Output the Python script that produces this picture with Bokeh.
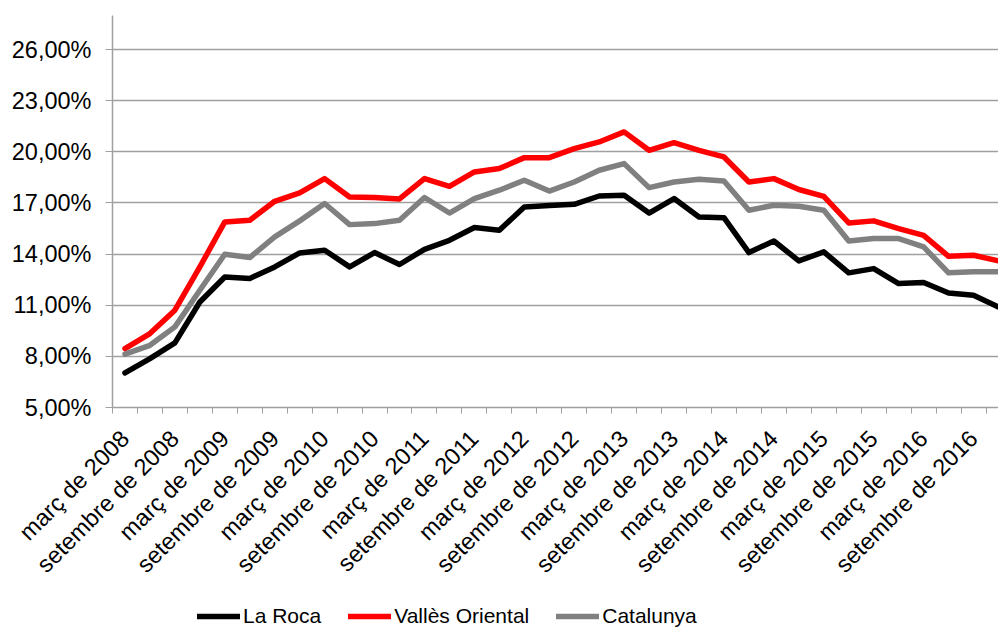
import math
from bokeh.plotting import figure
from bokeh.layouts import column
from bokeh.models import Range1d, FixedTicker, ColumnDataSource, Legend, LegendItem
from bokeh.embed import file_html
from bokeh.resources import INLINE

# ---- data (quarterly, març 2008 .. desembre 2016) ----
periods = [f"{m} {y}" for y in range(2008, 2017) for m in ("març", "juny", "setembre", "desembre")]

la_roca = [7.03, 7.87, 8.79, 11.19, 12.66, 12.57, 13.25, 14.07, 14.23, 13.25,
           14.09, 13.39, 14.28, 14.81, 15.56, 15.40, 16.77, 16.85, 16.92, 17.41,
           17.45, 16.41, 17.26, 16.18, 16.14, 14.09, 14.77, 13.60, 14.13, 12.90,
           13.15, 12.27, 12.33, 11.72, 11.59, 10.90]

valles_oriental = [8.46, 9.34, 10.71, 13.25, 15.89, 15.99, 17.10, 17.59, 18.43, 17.35,
                   17.32, 17.24, 18.43, 17.98, 18.82, 19.02, 19.66, 19.66, 20.19, 20.58,
                   21.17, 20.09, 20.54, 20.09, 19.70, 18.23, 18.43, 17.79, 17.39, 15.83,
                   15.95, 15.50, 15.10, 13.87, 13.93, 13.60]

catalunya = [8.13, 8.65, 9.73, 11.88, 13.99, 13.80, 15.01, 15.95, 16.97, 15.73,
             15.79, 15.99, 17.32, 16.41, 17.26, 17.75, 18.33, 17.70, 18.23, 18.92,
             19.31, 17.90, 18.23, 18.39, 18.29, 16.57, 16.87, 16.81, 16.57, 14.77,
             14.91, 14.91, 14.42, 12.90, 12.96, 12.96]

x_tick_positions = list(range(0, 36, 2))
x_tick_labels = ["març de 2008", "setembre de 2008", "març de 2009", "setembre de 2009",
                 "març de 2010", "setembre de 2010", "març de 2011", "setembre de 2011",
                 "març de 2012", "setembre de 2012", "març de 2013", "setembre de 2013",
                 "març de 2014", "setembre de 2014", "març de 2015", "setembre de 2015",
                 "març de 2016", "setembre de 2016"]

y_ticks = [5, 8, 11, 14, 17, 20, 23, 26]
y_tick_labels = ["5,00%", "8,00%", "11,00%", "14,00%", "17,00%", "20,00%", "23,00%", "26,00%"]

series_names = ["La Roca", "Vallès Oriental", "Catalunya"]
series_colors = ["#000000", "#FF0000", "#808080"]
series_cols = ["la_roca", "valles", "catalunya"]

FONT = "Liberation Sans"
AXIS_GRAY = "#A0A0A0"

idx = list(range(len(periods)))
source = ColumnDataSource(dict(x=idx, period=periods, la_roca=la_roca,
                               valles=valles_oriental, catalunya=catalunya))

p = figure(frame_width=886, frame_height=392,
           x_range=Range1d(-0.5, 35), y_range=Range1d(5, 28),
           output_backend="svg", toolbar_location=None,
           min_border_left=112, min_border_right=0, min_border_top=15, min_border_bottom=193)
p.outline_line_color = None
p.background_fill_color = "white"
p.border_fill_color = "white"

for col, color in zip(series_cols, series_colors):
    p.line("x", col, source=source, line_color=color, line_width=5.5,
           line_join="round", line_cap="round")

# x axis
p.xaxis.ticker = FixedTicker(ticks=x_tick_positions,
                             minor_ticks=[i - 0.5 for i in range(len(periods) + 1)])
p.xaxis.major_label_overrides = {t: lab for t, lab in zip(x_tick_positions, x_tick_labels)}
p.xaxis.major_label_orientation = math.pi / 4
p.xaxis.major_tick_out = 0
p.xaxis.major_tick_in = 0
p.xaxis.minor_tick_in = 0
p.xaxis.minor_tick_out = 6
p.xaxis.minor_tick_line_color = AXIS_GRAY
p.xaxis.axis_line_color = AXIS_GRAY
p.xaxis.axis_line_width = 1.5
p.xaxis.major_label_standoff = 21
p.xaxis.major_label_text_font = FONT
p.xaxis.major_label_text_font_size = "23.5px"
p.xaxis.major_label_text_color = "black"
p.xgrid.visible = False

# y axis
p.yaxis.ticker = FixedTicker(ticks=y_ticks, minor_ticks=[])
p.yaxis.major_label_overrides = {t: lab for t, lab in zip(y_ticks, y_tick_labels)}
p.yaxis.major_tick_out = 7
p.yaxis.major_tick_in = 0
p.yaxis.major_tick_line_color = AXIS_GRAY
p.yaxis.axis_line_color = AXIS_GRAY
p.yaxis.axis_line_width = 1.5
p.yaxis.major_label_standoff = 14
p.yaxis.major_label_text_font = FONT
p.yaxis.major_label_text_font_size = "23.5px"
p.yaxis.major_label_text_color = "black"
p.ygrid.grid_line_color = AXIS_GRAY
p.ygrid.grid_line_width = 1.5

# legend strip below the chart (series drawn out of view, only used for legend glyphs)
lg = figure(width=998, height=28, x_range=Range1d(0, 1), y_range=Range1d(0, 1),
            x_axis_type=None, y_axis_type=None, output_backend="svg",
            toolbar_location=None, min_border=0)
lg.outline_line_color = None
lg.background_fill_color = "white"
lg.border_fill_color = "white"
leg_renderers = []
for col, color in zip(series_cols, series_colors):
    leg_renderers.append(lg.line("x", col, source=source, line_color=color,
                                 line_width=5.5, line_cap="round"))

legend = Legend(items=[LegendItem(label=n, renderers=[r]) for n, r in zip(series_names, leg_renderers)],
                location=(85, 0), orientation="horizontal",
                padding=0, margin=0, spacing=27, label_standoff=3,
                glyph_width=43, glyph_height=22, label_height=22,
                label_text_font=FONT, label_text_font_size="21px",
                label_text_color="black",
                border_line_color=None, background_fill_alpha=0)
lg.add_layout(legend)

layout = column(p, lg, spacing=0)
open("out.html", "w").write(file_html(layout, INLINE))
